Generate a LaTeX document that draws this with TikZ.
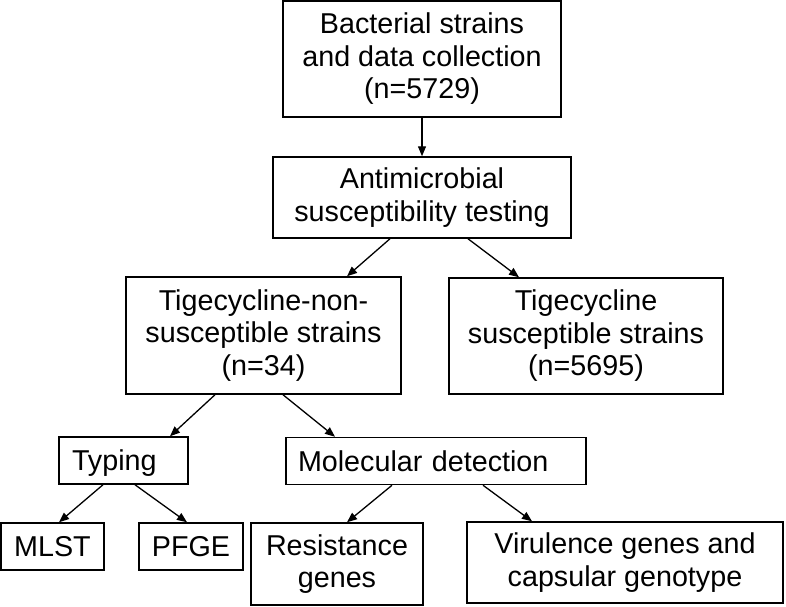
\documentclass[tikz,border=0pt]{standalone}
\usepackage{fontspec}
\setmainfont{Liberation Sans}
\usetikzlibrary{arrows.meta}

\tikzset{
  box/.style={draw, line width=1.5pt, align=center, inner sep=0pt,
    font=\fontsize{28.7}{32.5}\selectfont},
  lbox/.style={box, align=left, minimum height=47pt, text depth=0pt},
  arr/.style={-{Triangle[length=10pt,width=8pt]}, line width=1.3pt}
}

\begin{document}
\begin{tikzpicture}[x=1pt,y=1pt]
\useasboundingbox (0,0) rectangle (786,-606);
% boxes
\node[box, minimum width=278pt, minimum height=116pt] (collect) at (422,-59)
  {Bacterial strains\\and data collection\\(n=5729)};
\node[box, minimum width=298pt, minimum height=81pt] (ast) at (422,-197.5)
  {Antimicrobial\\susceptibility testing};
\node[box, minimum width=275pt, minimum height=117pt] (nonsus) at (263.5,-335.5)
  {Tigecycline-non-\\susceptible strains\\(n=34)};
\node[box, minimum width=274pt, minimum height=116pt] (sus) at (586,-336)
  {Tigecycline\\susceptible strains\\(n=5695)};
\node[lbox, text width=103pt, inner xsep=13pt] (typing) at (123.5,-460.5) {Typing};
\node[lbox, text width=276pt, inner xsep=12pt] (moldet) at (436,-461) {Molecular detection};
\node[box, minimum width=103pt, minimum height=47pt] (mlst) at (52.5,-546.5) {MLST};
\node[box, minimum width=104pt, minimum height=47pt] (pfge) at (191,-546.5) {PFGE};
\node[box, minimum width=172pt, minimum height=82pt] (resgen) at (337,-564)
  {Resistance\\genes};
\node[box, minimum width=316pt, minimum height=81pt] (virgen) at (625,-562.5)
  {Virulence genes and\\capsular genotype};
% arrows
\draw[arr] (collect.south) -- (ast.north);
\draw[arr] ([xshift=-32pt]ast.south) -- ([xshift=83.5pt]nonsus.north);
\draw[arr] ([xshift=46pt]ast.south) -- ([xshift=-67pt]sus.north);
\draw[arr] ([xshift=-48.5pt]nonsus.south) -- ([xshift=46.5pt]typing.north);
\draw[arr] ([xshift=19.5pt]nonsus.south) -- ([xshift=-101pt]moldet.north);
\draw[arr] ([xshift=-20.5pt]typing.south) -- ([xshift=6.5pt]mlst.north);
\draw[arr] ([xshift=11.5pt]typing.south) -- ([xshift=-4pt]pfge.north);
\draw[arr] ([xshift=-44pt]moldet.south) -- ([xshift=10pt]resgen.north);
\draw[arr] ([xshift=47pt]moldet.south) -- ([xshift=-93pt]virgen.north);
\end{tikzpicture}
\end{document}
